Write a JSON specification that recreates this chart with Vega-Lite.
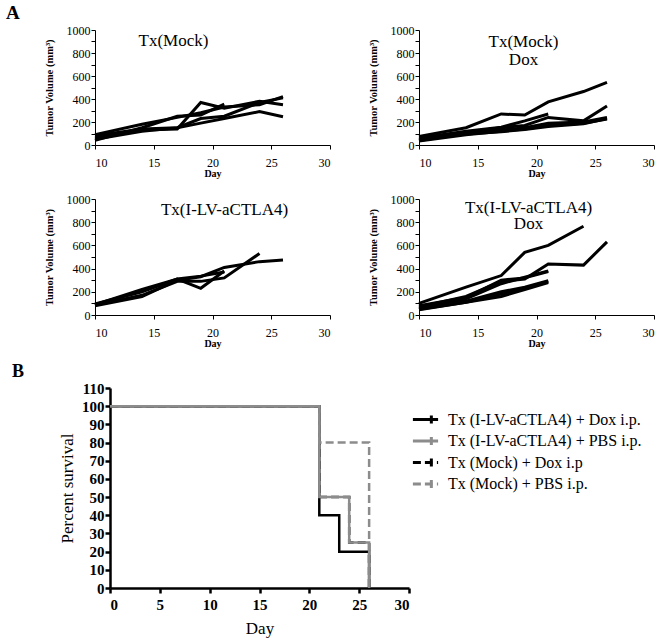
{
  "$schema": "https://vega.github.io/schema/vega-lite/v6.json",
  "background": "white",
  "padding": {"left": 6, "top": 4, "right": 5, "bottom": 3},
  "title": {"text": "A", "anchor": "start", "frame": "bounds", "fontSize": 19, "fontWeight": "bold", "offset": 1, "dx": -6},
  "config": {
    "font": "Liberation Serif",
    "view": {"stroke": null},
    "axis": {"grid": false, "domainColor": "black", "tickColor": "black", "labelColor": "black", "titleColor": "black", "labelFont": "Liberation Serif", "titleFont": "Liberation Serif"},
    "legend": {"labelFont": "Liberation Serif", "labelFontSize": 16, "labelColor": "black"},
    "title": {"font": "Liberation Serif", "color": "black"}
  },
  "datasets": {
    "tumor": [
      {"panel": "m", "mouse": 1, "day": 10, "volume": 90}, {"panel": "m", "mouse": 1, "day": 14, "volume": 180}, {"panel": "m", "mouse": 1, "day": 17, "volume": 240}, {"panel": "m", "mouse": 1, "day": 19, "volume": 280}, {"panel": "m", "mouse": 1, "day": 21, "volume": 330}, {"panel": "m", "mouse": 1, "day": 24, "volume": 350}, {"panel": "m", "mouse": 1, "day": 26, "volume": 420},
      {"panel": "m", "mouse": 2, "day": 10, "volume": 60}, {"panel": "m", "mouse": 2, "day": 14, "volume": 130}, {"panel": "m", "mouse": 2, "day": 17, "volume": 140}, {"panel": "m", "mouse": 2, "day": 19, "volume": 370}, {"panel": "m", "mouse": 2, "day": 21, "volume": 320}, {"panel": "m", "mouse": 2, "day": 24, "volume": 380}, {"panel": "m", "mouse": 2, "day": 26, "volume": 350},
      {"panel": "m", "mouse": 3, "day": 10, "volume": 50}, {"panel": "m", "mouse": 3, "day": 14, "volume": 120}, {"panel": "m", "mouse": 3, "day": 17, "volume": 150}, {"panel": "m", "mouse": 3, "day": 19, "volume": 230}, {"panel": "m", "mouse": 3, "day": 21, "volume": 250}, {"panel": "m", "mouse": 3, "day": 24, "volume": 370}, {"panel": "m", "mouse": 3, "day": 26, "volume": 410},
      {"panel": "m", "mouse": 4, "day": 10, "volume": 80}, {"panel": "m", "mouse": 4, "day": 14, "volume": 140}, {"panel": "m", "mouse": 4, "day": 17, "volume": 150}, {"panel": "m", "mouse": 4, "day": 19, "volume": 190}, {"panel": "m", "mouse": 4, "day": 21, "volume": 230}, {"panel": "m", "mouse": 4, "day": 24, "volume": 290}, {"panel": "m", "mouse": 4, "day": 26, "volume": 245},
      {"panel": "m", "mouse": 5, "day": 10, "volume": 40}, {"panel": "m", "mouse": 5, "day": 14, "volume": 150}, {"panel": "m", "mouse": 5, "day": 17, "volume": 250}, {"panel": "m", "mouse": 5, "day": 19, "volume": 260}, {"panel": "m", "mouse": 5, "day": 21, "volume": 355},
      {"panel": "md", "mouse": 1, "day": 10, "volume": 75}, {"panel": "md", "mouse": 1, "day": 14, "volume": 150}, {"panel": "md", "mouse": 1, "day": 17, "volume": 270}, {"panel": "md", "mouse": 1, "day": 19, "volume": 260}, {"panel": "md", "mouse": 1, "day": 21, "volume": 375}, {"panel": "md", "mouse": 1, "day": 24, "volume": 465}, {"panel": "md", "mouse": 1, "day": 26, "volume": 545},
      {"panel": "md", "mouse": 2, "day": 10, "volume": 60}, {"panel": "md", "mouse": 2, "day": 14, "volume": 120}, {"panel": "md", "mouse": 2, "day": 17, "volume": 155}, {"panel": "md", "mouse": 2, "day": 19, "volume": 210}, {"panel": "md", "mouse": 2, "day": 21, "volume": 270},
      {"panel": "md", "mouse": 3, "day": 10, "volume": 50}, {"panel": "md", "mouse": 3, "day": 14, "volume": 110}, {"panel": "md", "mouse": 3, "day": 17, "volume": 150}, {"panel": "md", "mouse": 3, "day": 19, "volume": 170}, {"panel": "md", "mouse": 3, "day": 21, "volume": 240}, {"panel": "md", "mouse": 3, "day": 24, "volume": 210}, {"panel": "md", "mouse": 3, "day": 26, "volume": 340},
      {"panel": "md", "mouse": 4, "day": 10, "volume": 40}, {"panel": "md", "mouse": 4, "day": 14, "volume": 100}, {"panel": "md", "mouse": 4, "day": 17, "volume": 130}, {"panel": "md", "mouse": 4, "day": 19, "volume": 150}, {"panel": "md", "mouse": 4, "day": 21, "volume": 190}, {"panel": "md", "mouse": 4, "day": 24, "volume": 200}, {"panel": "md", "mouse": 4, "day": 26, "volume": 240},
      {"panel": "md", "mouse": 5, "day": 10, "volume": 35}, {"panel": "md", "mouse": 5, "day": 14, "volume": 90}, {"panel": "md", "mouse": 5, "day": 17, "volume": 120}, {"panel": "md", "mouse": 5, "day": 19, "volume": 140}, {"panel": "md", "mouse": 5, "day": 21, "volume": 170}, {"panel": "md", "mouse": 5, "day": 24, "volume": 190}, {"panel": "md", "mouse": 5, "day": 26, "volume": 225},
      {"panel": "md", "mouse": 6, "day": 10, "volume": 45}, {"panel": "md", "mouse": 6, "day": 14, "volume": 95}, {"panel": "md", "mouse": 6, "day": 17, "volume": 115}, {"panel": "md", "mouse": 6, "day": 19, "volume": 135}, {"panel": "md", "mouse": 6, "day": 21, "volume": 160}, {"panel": "md", "mouse": 6, "day": 24, "volume": 185}, {"panel": "md", "mouse": 6, "day": 26, "volume": 230},
      {"panel": "l", "mouse": 1, "day": 10, "volume": 90}, {"panel": "l", "mouse": 1, "day": 14, "volume": 220}, {"panel": "l", "mouse": 1, "day": 17, "volume": 310}, {"panel": "l", "mouse": 1, "day": 19, "volume": 230}, {"panel": "l", "mouse": 1, "day": 21, "volume": 380},
      {"panel": "l", "mouse": 2, "day": 10, "volume": 80}, {"panel": "l", "mouse": 2, "day": 14, "volume": 160}, {"panel": "l", "mouse": 2, "day": 17, "volume": 300}, {"panel": "l", "mouse": 2, "day": 19, "volume": 330}, {"panel": "l", "mouse": 2, "day": 21, "volume": 410}, {"panel": "l", "mouse": 2, "day": 24, "volume": 460}, {"panel": "l", "mouse": 2, "day": 26, "volume": 475},
      {"panel": "l", "mouse": 3, "day": 10, "volume": 85}, {"panel": "l", "mouse": 3, "day": 14, "volume": 170}, {"panel": "l", "mouse": 3, "day": 17, "volume": 290}, {"panel": "l", "mouse": 3, "day": 19, "volume": 290}, {"panel": "l", "mouse": 3, "day": 21, "volume": 320}, {"panel": "l", "mouse": 3, "day": 24, "volume": 530},
      {"panel": "l", "mouse": 4, "day": 10, "volume": 95}, {"panel": "l", "mouse": 4, "day": 14, "volume": 200}, {"panel": "l", "mouse": 4, "day": 17, "volume": 310}, {"panel": "l", "mouse": 4, "day": 19, "volume": 335}, {"panel": "l", "mouse": 4, "day": 21, "volume": 370},
      {"panel": "ld", "mouse": 1, "day": 10, "volume": 100}, {"panel": "ld", "mouse": 1, "day": 14, "volume": 240}, {"panel": "ld", "mouse": 1, "day": 17, "volume": 340}, {"panel": "ld", "mouse": 1, "day": 19, "volume": 540}, {"panel": "ld", "mouse": 1, "day": 21, "volume": 600}, {"panel": "ld", "mouse": 1, "day": 24, "volume": 765},
      {"panel": "ld", "mouse": 2, "day": 10, "volume": 70}, {"panel": "ld", "mouse": 2, "day": 14, "volume": 160}, {"panel": "ld", "mouse": 2, "day": 17, "volume": 290}, {"panel": "ld", "mouse": 2, "day": 19, "volume": 310}, {"panel": "ld", "mouse": 2, "day": 21, "volume": 440}, {"panel": "ld", "mouse": 2, "day": 24, "volume": 430}, {"panel": "ld", "mouse": 2, "day": 26, "volume": 630},
      {"panel": "ld", "mouse": 3, "day": 10, "volume": 80}, {"panel": "ld", "mouse": 3, "day": 14, "volume": 150}, {"panel": "ld", "mouse": 3, "day": 17, "volume": 300}, {"panel": "ld", "mouse": 3, "day": 19, "volume": 320}, {"panel": "ld", "mouse": 3, "day": 21, "volume": 375},
      {"panel": "ld", "mouse": 4, "day": 10, "volume": 60}, {"panel": "ld", "mouse": 4, "day": 14, "volume": 140}, {"panel": "ld", "mouse": 4, "day": 17, "volume": 270}, {"panel": "ld", "mouse": 4, "day": 19, "volume": 325}, {"panel": "ld", "mouse": 4, "day": 21, "volume": 380},
      {"panel": "ld", "mouse": 5, "day": 10, "volume": 50}, {"panel": "ld", "mouse": 5, "day": 14, "volume": 110}, {"panel": "ld", "mouse": 5, "day": 17, "volume": 180}, {"panel": "ld", "mouse": 5, "day": 19, "volume": 230}, {"panel": "ld", "mouse": 5, "day": 21, "volume": 290},
      {"panel": "ld", "mouse": 6, "day": 10, "volume": 45}, {"panel": "ld", "mouse": 6, "day": 14, "volume": 110}, {"panel": "ld", "mouse": 6, "day": 17, "volume": 160}, {"panel": "ld", "mouse": 6, "day": 19, "volume": 220}, {"panel": "ld", "mouse": 6, "day": 21, "volume": 280},
      {"panel": "ld", "mouse": 7, "day": 10, "volume": 55}, {"panel": "ld", "mouse": 7, "day": 14, "volume": 120}, {"panel": "ld", "mouse": 7, "day": 17, "volume": 200}, {"panel": "ld", "mouse": 7, "day": 19, "volume": 240}, {"panel": "ld", "mouse": 7, "day": 21, "volume": 295}
    ],
    "survival": [
      {"group": "Tx (I-LV-aCTLA4) + Dox i.p.", "day": 0, "percent": 100}, {"group": "Tx (I-LV-aCTLA4) + Dox i.p.", "day": 21, "percent": 40}, {"group": "Tx (I-LV-aCTLA4) + Dox i.p.", "day": 23, "percent": 20}, {"group": "Tx (I-LV-aCTLA4) + Dox i.p.", "day": 26, "percent": 20}, {"group": "Tx (I-LV-aCTLA4) + Dox i.p.", "day": 26, "percent": 0},
      {"group": "Tx (I-LV-aCTLA4) + PBS i.p.", "day": 0, "percent": 100}, {"group": "Tx (I-LV-aCTLA4) + PBS i.p.", "day": 21, "percent": 50}, {"group": "Tx (I-LV-aCTLA4) + PBS i.p.", "day": 24, "percent": 25}, {"group": "Tx (I-LV-aCTLA4) + PBS i.p.", "day": 26, "percent": 0},
      {"group": "Tx (Mock) + Dox i.p", "day": 0, "percent": 100}, {"group": "Tx (Mock) + Dox i.p", "day": 21, "percent": 50}, {"group": "Tx (Mock) + Dox i.p", "day": 24, "percent": 25}, {"group": "Tx (Mock) + Dox i.p", "day": 26, "percent": 0},
      {"group": "Tx (Mock) + PBS i.p.", "day": 0, "percent": 100}, {"group": "Tx (Mock) + PBS i.p.", "day": 21, "percent": 80}, {"group": "Tx (Mock) + PBS i.p.", "day": 26, "percent": 0}
    ]
  },
  "columns": 1,
  "align": "none",
  "spacing": 15,
  "resolve": {"legend": {"color": "independent", "strokeDash": "independent"}},
  "concat": [
    {
      "spacing": 37,
      "hconcat": [
        {
          "width": 235, "height": 115,
          "title": {"text": "Tx(Mock)", "fontSize": 17, "fontWeight": "normal", "baseline": "alphabetic", "dx": -39, "dy": 39, "offset": 0, "lineHeight": 18},
          "data": {"name": "tumor"},
          "transform": [{"filter": "datum.panel === 'm'"}],
          "mark": {"type": "line", "color": "black", "strokeWidth": 3},
          "encoding": {
            "x": {"field": "day", "type": "quantitative", "scale": {"domain": [10, 30]}, "axis": {"values": [10, 15, 20, 25, 30], "title": "Day", "titleFontSize": 10, "titleFontWeight": "bold", "labelFontSize": 12, "labelPadding": 8, "tickSize": 4, "titlePadding": 0}},
            "y": {"field": "volume", "type": "quantitative", "scale": {"domain": [0, 1000]}, "axis": {"values": [0, 100, 200, 300, 400, 500, 600, 700, 800, 900, 1000], "format": "d", "title": "Tumor Volume (mm³)", "titleFontSize": 10.5, "titleFontWeight": "bold", "labelFontSize": 12, "tickSize": 4, "labelPadding": 1, "titlePadding": 12}},
            "detail": {"field": "mouse"}
          }
        },
        {
          "width": 235, "height": 115,
          "title": {"text": ["Tx(Mock)", "Dox"], "fontSize": 17, "fontWeight": "normal", "baseline": "alphabetic", "dx": -13, "dy": 58, "offset": 0, "lineHeight": 18},
          "data": {"name": "tumor"},
          "transform": [{"filter": "datum.panel === 'md'"}],
          "mark": {"type": "line", "color": "black", "strokeWidth": 3},
          "encoding": {
            "x": {"field": "day", "type": "quantitative", "scale": {"domain": [10, 30]}, "axis": {"values": [10, 15, 20, 25, 30], "title": "Day", "titleFontSize": 10, "titleFontWeight": "bold", "labelFontSize": 12, "labelPadding": 8, "tickSize": 4, "titlePadding": 0}},
            "y": {"field": "volume", "type": "quantitative", "scale": {"domain": [0, 1000]}, "axis": {"values": [0, 100, 200, 300, 400, 500, 600, 700, 800, 900, 1000], "format": "d", "title": "Tumor Volume (mm³)", "titleFontSize": 10.5, "titleFontWeight": "bold", "labelFontSize": 12, "tickSize": 4, "labelPadding": 1, "titlePadding": 12}},
            "detail": {"field": "mouse"}
          }
        }
      ]
    },
    {
      "spacing": 37,
      "hconcat": [
        {
          "width": 235, "height": 116,
          "title": {"text": "Tx(I-LV-aCTLA4)", "fontSize": 17, "fontWeight": "normal", "baseline": "alphabetic", "dx": 12, "dy": 39, "offset": 0, "lineHeight": 16},
          "data": {"name": "tumor"},
          "transform": [{"filter": "datum.panel === 'l'"}],
          "mark": {"type": "line", "color": "black", "strokeWidth": 3},
          "encoding": {
            "x": {"field": "day", "type": "quantitative", "scale": {"domain": [10, 30]}, "axis": {"values": [10, 15, 20, 25, 30], "title": "Day", "titleFontSize": 10, "titleFontWeight": "bold", "labelFontSize": 12, "labelPadding": 8, "tickSize": 4, "titlePadding": 0}},
            "y": {"field": "volume", "type": "quantitative", "scale": {"domain": [0, 1000]}, "axis": {"values": [0, 100, 200, 300, 400, 500, 600, 700, 800, 900, 1000], "format": "d", "title": "Tumor Volume (mm³)", "titleFontSize": 10.5, "titleFontWeight": "bold", "labelFontSize": 12, "tickSize": 4, "labelPadding": 1, "titlePadding": 12}},
            "detail": {"field": "mouse"}
          }
        },
        {
          "width": 235, "height": 116,
          "title": {"text": ["Tx(I-LV-aCTLA4)", "Dox"], "fontSize": 17, "fontWeight": "normal", "baseline": "alphabetic", "dx": -8, "dy": 53, "offset": 0, "lineHeight": 16},
          "data": {"name": "tumor"},
          "transform": [{"filter": "datum.panel === 'ld'"}],
          "mark": {"type": "line", "color": "black", "strokeWidth": 3},
          "encoding": {
            "x": {"field": "day", "type": "quantitative", "scale": {"domain": [10, 30]}, "axis": {"values": [10, 15, 20, 25, 30], "title": "Day", "titleFontSize": 10, "titleFontWeight": "bold", "labelFontSize": 12, "labelPadding": 8, "tickSize": 4, "titlePadding": 0}},
            "y": {"field": "volume", "type": "quantitative", "scale": {"domain": [0, 1000]}, "axis": {"values": [0, 100, 200, 300, 400, 500, 600, 700, 800, 900, 1000], "format": "d", "title": "Tumor Volume (mm³)", "titleFontSize": 10.5, "titleFontWeight": "bold", "labelFontSize": 12, "tickSize": 4, "labelPadding": 1, "titlePadding": 12}},
            "detail": {"field": "mouse"}
          }
        }
      ]
    },
    {
      "width": 314, "height": 200,
      "title": {"text": "B", "anchor": "start", "fontSize": 18, "fontWeight": "bold", "frame": "group", "dx": -83, "offset": 0},
      "data": {"name": "survival"},
      "encoding": {
        "x": {"field": "day", "type": "quantitative", "scale": {"domain": [0, 30], "range": [15, 314]}, "axis": {"values": [0, 5, 10, 15, 20, 25, 30], "title": "Day", "titleFontSize": 17, "titleFontWeight": "normal", "labelFontSize": 15, "labelFontWeight": "bold", "domainWidth": 2.5, "tickWidth": 2.5, "tickSize": 5, "labelPadding": 4, "titlePadding": 8}},
        "y": {"field": "percent", "type": "quantitative", "scale": {"domain": [0, 110]}, "axis": {"offset": -15, "values": [0, 10, 20, 30, 40, 50, 60, 70, 80, 90, 100, 110], "title": "Percent survival", "titleFontSize": 17, "titleFontWeight": "normal", "labelFontSize": 15, "labelFontWeight": "bold", "domainWidth": 2.5, "tickWidth": 2.5, "tickSize": 5, "labelPadding": 1, "titlePadding": 5}},
        "color": {"field": "group", "type": "nominal", "scale": {"domain": ["Tx (I-LV-aCTLA4) + Dox i.p.", "Tx (I-LV-aCTLA4) + PBS i.p.", "Tx (Mock) + Dox i.p", "Tx (Mock) + PBS i.p."], "range": ["#000000", "#8c8c8c", "#000000", "#8c8c8c"]}, "legend": {"title": null, "orient": "none", "legendX": 320, "legendY": 21, "labelFontSize": 16, "labelFont": "Liberation Serif", "labelColor": "black", "symbolType": "M-1.4,0H1.4M0.65,-0.45V0.45", "symbolSize": 324, "symbolStrokeWidth": 3, "rowPadding": 0.5, "labelOffset": 12, "labelLimit": 400, "padding": 0}},
        "strokeDash": {"field": "group", "type": "nominal", "scale": {"domain": ["Tx (I-LV-aCTLA4) + Dox i.p.", "Tx (I-LV-aCTLA4) + PBS i.p.", "Tx (Mock) + Dox i.p", "Tx (Mock) + PBS i.p."], "range": [[1, 0], [1, 0], [8, 4], [8, 4]]}, "legend": {"title": null, "orient": "none", "legendX": 320, "legendY": 21, "labelFontSize": 16, "labelFont": "Liberation Serif", "labelColor": "black", "symbolType": "M-1.4,0H1.4M0.65,-0.45V0.45", "symbolSize": 324, "symbolStrokeWidth": 3, "rowPadding": 0.5, "labelOffset": 12, "labelLimit": 400, "padding": 0}}
      },
      "layer": [
        {"transform": [{"filter": "datum.group === 'Tx (Mock) + Dox i.p'"}], "mark": {"type": "line", "interpolate": "step-after", "strokeWidth": 2.5}},
        {"transform": [{"filter": "datum.group === 'Tx (I-LV-aCTLA4) + Dox i.p.'"}], "mark": {"type": "line", "interpolate": "step-after", "strokeWidth": 2.5}},
        {"transform": [{"filter": "datum.group === 'Tx (Mock) + PBS i.p.'"}], "mark": {"type": "line", "interpolate": "step-after", "strokeWidth": 2.5}},
        {"transform": [{"filter": "datum.group === 'Tx (I-LV-aCTLA4) + PBS i.p.'"}], "mark": {"type": "line", "interpolate": "step-after", "strokeWidth": 2.5}}
      ]
    }
  ]
}
